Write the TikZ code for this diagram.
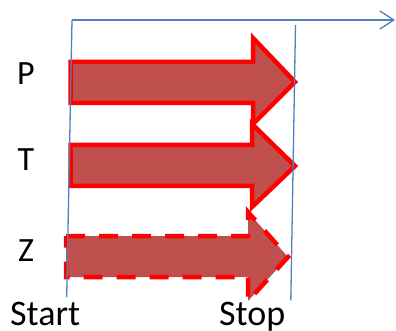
\documentclass[tikz,border=0pt]{standalone}
\usepackage{fontspec}
\setmainfont{Carlito}
\usetikzlibrary{arrows.meta}
\definecolor{fillred}{HTML}{C0504D}
\definecolor{axisblue}{HTML}{4F81BD}
\tikzset{
  barrow/.style={fill=fillred, draw=red, line width=4.5pt, line join=miter},
  darrow/.style={barrow, dash pattern=on 19pt off 14pt},
  axisline/.style={draw=axisblue, line width=1.3pt},
  lbl/.style={font=\fontsize{34}{34}\selectfont, inner sep=0pt},
  blbl/.style={font=\fontsize{36}{36}\selectfont, inner sep=0pt, anchor=base west}
}
\begin{document}
\begin{tikzpicture}[x=1pt,y=-1pt]
\useasboundingbox (0,0) rectangle (396,331);
% arrows
\draw[barrow] (70.7,62) -- (253,62) -- (253,38) -- (295,82) -- (253,124) -- (253,103) -- (70.7,103) -- cycle;
\draw[barrow] (70.7,145) -- (252,145) -- (252,124) -- (295,166) -- (252,207) -- (252,186) -- (70.7,186) -- cycle;
\draw[darrow] (66,236) -- (248,236) -- (248,212) -- (288,257) -- (248,301) -- (248,277) -- (66,277) -- cycle;
% axes
\coordinate (o) at (72,20);
\coordinate (xend) at (395,20);
\coordinate (startb) at (66.7,297);
\coordinate (stopt) at (295.5,25);
\coordinate (stopb) at (290.8,300.5);
\draw[axisline, -{Straight Barb[length=14pt,width=18pt]}] (o) -- (xend);
\draw[axisline] (o) -- (startb);
\draw[axisline] (stopt) -- (stopb);
% labels
\node[lbl] (p) at (26,74) {P};
\node[lbl] (t) at (26,160) {T};
\node[lbl] (z) at (26,251) {Z};
\node[blbl] (start) at (10,325) {Start};
\node[blbl] (stop) at (219,325) {Stop};
\end{tikzpicture}
\end{document}
